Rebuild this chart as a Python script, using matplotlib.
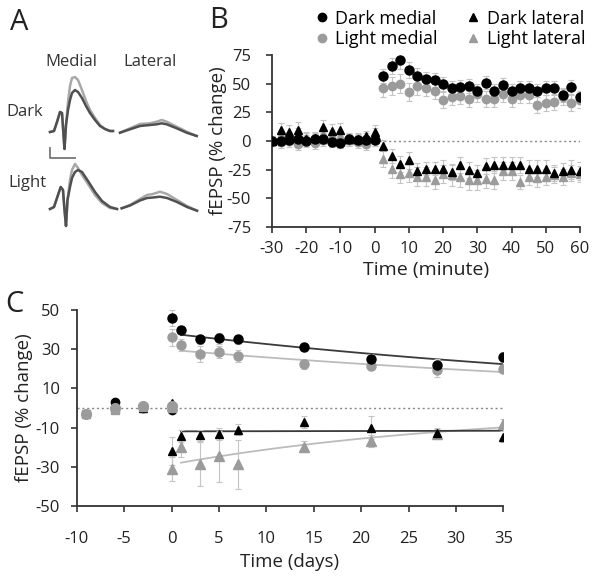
import numpy as np
import matplotlib
matplotlib.use("Agg")
import matplotlib.pyplot as plt
from matplotlib.lines import Line2D

plt.rcParams['font.family'] = ['Open Sans', 'DejaVu Sans']
plt.rcParams['axes.unicode_minus'] = False

# ---- panel A: example traces (figure pixel coords) ----
med_dark_x = [50, 54, 57, 60, 62, 63.5, 64.5, 66, 68, 70, 72, 75, 78, 82, 86, 90, 95, 100, 105, 110, 113]
med_dark_y_a = [132, 131, 122, 112, 113, 135, 149, 125, 110, 100, 93, 90, 92, 98, 106, 113, 120, 126, 129, 131, 131]
med_dark_y_b = [132, 131, 122, 112, 113, 135, 149, 125, 102, 86, 78, 77, 80, 90, 101, 110, 118, 125, 129, 131, 131]
lat_dark_x = [120, 130, 140, 150, 156.7, 161.7, 166.7, 176.7, 186.7, 196.7]
lat_dark_y_a = [132.7, 129.3, 126, 125, 124.3, 123.3, 124.3, 128.3, 132.7, 136]
lat_dark_y_b = [132.7, 128.3, 124, 123.3, 121.7, 120, 121.7, 126.7, 131.7, 136]
med_light_x = [50, 54, 58, 60.7, 63, 64.5, 66, 67.5, 70, 72, 75, 78, 82, 88, 95, 102, 110, 117]
med_light_y_a = [209, 207, 195, 187, 190, 210, 226, 200, 187, 178, 172, 170, 172, 181, 192, 201, 207, 209]
med_light_y_b = [209, 207, 195, 187, 190, 210, 226, 200, 180, 170, 164, 168, 175, 184, 195, 203, 208, 209]
lat_light_x = [121.7, 130, 140, 147, 153, 160, 167, 177, 187, 197]
lat_light_y_a = [208.3, 205.5, 200.5, 198, 197.5, 196.7, 198, 202, 207, 210.7]
lat_light_y_b = [208.3, 205, 199, 195, 194, 191.7, 194, 200, 206, 210.7]
scale_x = [50, 50, 75]
scale_y = [148, 158, 158]

# ---- panel B: minutes ----
t_min = [-30, -27.5, -25, -22.5, -20, -17.5, -15, -12.5, -10, -7.5, -5, -2.5, 0,
         2.5, 5, 7.5, 10, 12.5, 15, 17.5, 20, 22.5, 25, 27.5, 30,
         32.5, 35, 37.5, 40, 42.5, 45, 47.5, 50, 52.5, 55, 57.5, 60]
b_dark_med = [0, 0, 1, 2, 0, 2, 2, -1, -2, 2, 1, 1, 1,
              57, 65, 71, 62, 57, 54, 53, 50, 46, 47, 48, 44,
              51, 44, 49, 44, 46, 46, 44, 46, 46, 40, 47, 38]
b_dark_med_err = [3, 4, 4, 5, 4, 4, 5, 4, 4, 4, 4, 4, 5,
                  6, 7, 8, 7, 7, 6, 6, 6, 6, 6, 6, 6,
                  6, 6, 6, 6, 6, 6, 6, 6, 6, 6, 6, 6]
b_light_med = [0, -1, 0, -3, 0, -2, 1, 0, -1, 1, -1, -3, 1,
               46, 48, 50, 43, 48, 46, 44, 36, 38, 39, 37, 41,
               37, 37, 41, 37, 40, 40, 31, 33, 34, 38, 33, 36]
b_light_med_err = [4, 5, 5, 5, 5, 5, 5, 5, 5, 5, 5, 5, 5,
                   8, 8, 8, 8, 8, 7, 7, 7, 7, 7, 7, 7,
                   7, 7, 7, 7, 7, 7, 7, 7, 7, 7, 7, 7]
b_dark_lat = [0, 10, 8, 10, 2, 3, 12, 9, 10, 2, 2, 4, 8,
              -4, -13, -20, -17, -26, -24, -24, -24, -27, -21, -25, -28,
              -22, -21, -21, -21, -21, -24, -24, -24, -28, -26, -25, -26]
b_dark_lat_err = [4, 6, 6, 7, 5, 5, 6, 6, 6, 5, 5, 5, 6,
                  5, 6, 7, 7, 7, 6, 6, 7, 7, 7, 7, 7,
                  7, 7, 7, 7, 7, 7, 7, 7, 7, 7, 8, 8]
b_light_lat = [0, 5, 3, 5, 3, 2, 6, 5, 4, 1, 1, 2, 5,
               -16, -24, -29, -28, -31, -31, -34, -29, -30, -31, -34, -34,
               -33, -34, -26, -26, -36, -31, -32, -31, -30, -31, -28, -29]
b_light_lat_err = [4, 5, 5, 6, 5, 5, 6, 5, 5, 5, 5, 5, 6,
                   7, 8, 8, 8, 8, 8, 8, 8, 9, 9, 9, 9,
                   8, 8, 8, 8, 6, 7, 8, 7, 7, 7, 7, 7]

# ---- panel C: days ----
base_days = [-9, -6, -3, 0]
c_base_dark_med = [-3, 3, 0, -1]
c_base_light_med = [-3, 0, 1, 1]
c_base_dark_lat = [-3, 0, 0, 2.5]
c_base_light_lat = [-3, -1, 0.5, 0]
days = [0, 1, 3, 5, 7, 14, 21, 28, 35]
c_dark_med = [46, 40, 35, 35.5, 35, 31, 25, 22, 26]
c_dark_med_err = [4, 2, 2.5, 3, 2.5, 2, 2.5, 3, 2.5]
c_light_med = [36, 32, 27.5, 28.7, 26.5, 22.4, 21.4, 19.4, 20]
c_light_med_err = [4.5, 3, 4, 3, 3, 2.5, 2, 3.5, 2]
c_dark_lat = [-22, -14.3, -14, -13.3, -11, -7, -10, -12.5, -14.6]
c_dark_lat_err = [7, 3, 3, 3, 3, 3, 6, 2.5, 3]
c_light_lat = [-31, -20, -28.6, -24.5, -28.6, -19.7, -16.7, -13.4, -8.2]
c_light_lat_err = [6, 5, 11, 13, 12.5, 3, 3, 2.5, 2.5]

DARK = '#000000'
LIGHT = '#9b9b9b'
ERR = '#c4c4c4'
AX = '#333333'
TXT = '#222222'

fig = plt.figure(figsize=(6, 5.76), dpi=100)

# ---------- A ----------
axa = fig.add_axes([0, (576 - 270) / 576, 210 / 600, 270 / 576])
axa.set_xlim(0, 210)
axa.set_ylim(270, 0)
axa.axis('off')
for xs, ya, yb in [(med_dark_x, med_dark_y_a, med_dark_y_b), (lat_dark_x, lat_dark_y_a, lat_dark_y_b),
                   (med_light_x, med_light_y_a, med_light_y_b), (lat_light_x, lat_light_y_a, lat_light_y_b)]:
    axa.plot(xs, yb, color='#a8a8a8', lw=1.8)
    axa.plot(xs, ya, color='#505050', lw=1.8)
axa.plot(scale_x, scale_y, color='#777777', lw=1.3)
axa.text(19, 23, 'A', fontsize=21, ha='center', va='center', color=TXT)
axa.text(71, 62, 'Medial', fontsize=12, ha='center', va='center', color='#333333')
axa.text(150, 62, 'Lateral', fontsize=12, ha='center', va='center', color='#333333')
axa.text(25, 112, 'Dark', fontsize=12, ha='center', va='center', color='#333333')
axa.text(27, 183, 'Light', fontsize=12, ha='center', va='center', color='#333333')


def style_axes(ax, xpad, ypad):
    for s in ['top', 'right']:
        ax.spines[s].set_visible(False)
    for s in ['left', 'bottom']:
        ax.spines[s].set_color(AX)
        ax.spines[s].set_linewidth(1.3)
    ax.tick_params(colors=AX, width=1.2, length=4, labelsize=12, labelcolor=TXT)
    ax.tick_params(axis='x', pad=xpad)
    ax.tick_params(axis='y', pad=ypad)


# ---------- B ----------
axb = fig.add_axes([272 / 600, (576 - 227) / 576, 308 / 600, 172 / 576])
axb.axhline(0, color='#888888', lw=1, ls=(0, (1.5, 2)), zorder=0)
ekw = dict(fmt='none', ecolor=ERR, elinewidth=0.8, capsize=2.5, capthick=0.8, zorder=1)
axb.errorbar(t_min, b_light_lat, yerr=b_light_lat_err, **ekw)
axb.errorbar(t_min, b_light_med, yerr=b_light_med_err, **ekw)
axb.errorbar(t_min, b_dark_lat, yerr=b_dark_lat_err, **ekw)
axb.errorbar(t_min, b_dark_med, yerr=b_dark_med_err, **ekw)
axb.plot(t_min, b_light_lat, '^', color=LIGHT, ms=6, ls='none', zorder=2)
axb.plot(t_min, b_light_med, 'o', color=LIGHT, ms=6, ls='none', zorder=2)
axb.plot(t_min, b_dark_lat, '^', color=DARK, ms=6, ls='none', zorder=3)
axb.plot(t_min, b_dark_med, 'o', color=DARK, ms=6.5, ls='none', zorder=3)
axb.set_xlim(-30, 60)
axb.set_ylim(-75, 75)
axb.set_xticks([-30, -20, -10, 0, 10, 20, 30, 40, 50, 60])
axb.set_yticks([-75, -50, -25, 0, 25, 50, 75])
style_axes(axb, 6, 11)
axb.set_xlabel('Time (minute)', fontsize=14, color=TXT, labelpad=3)
axb.set_ylabel('fEPSP (% change)', fontsize=13.5, color=TXT, labelpad=0)
fig.text(219 / 600, 1 - 20 / 576, 'B', fontsize=21, ha='center', va='center', color=TXT)

handles = [Line2D([], [], marker='o', color=DARK, ls='none', ms=6),
           Line2D([], [], marker='o', color=LIGHT, ls='none', ms=6),
           Line2D([], [], marker='^', color=DARK, ls='none', ms=6),
           Line2D([], [], marker='^', color=LIGHT, ls='none', ms=6)]
labels = ['Dark medial', 'Light medial', 'Dark lateral', 'Light lateral']
fig.legend(handles, labels, ncol=2, loc='upper left', bbox_to_anchor=(303 / 600, 1 + 3 / 576),
           frameon=False, handlelength=0.7, handletextpad=0.4,
           columnspacing=1.6, labelspacing=0.15, borderpad=0.2, prop={'size': 13})

# ---------- C ----------
axc = fig.add_axes([76.7 / 600, (576 - 506) / 576, 426.6 / 600, 196 / 576])
axc.axhline(0, color='#888888', lw=1, ls=(0, (1.5, 2)), zorder=0)
post_x = np.array(days[1:], dtype=float)
xx = np.linspace(post_x.min(), post_x.max(), 100)
for vals, col in [(c_light_lat, '#bcbcbc'), (c_light_med, '#bcbcbc'),
                  (c_dark_lat, '#3a3a3a'), (c_dark_med, '#3a3a3a')]:
    v = np.array(vals[1:], dtype=float)
    sgn = np.sign(v.mean())
    b, a = np.polyfit(post_x, np.log(np.abs(v)), 1)
    axc.plot(xx, sgn * np.exp(a + b * xx), color=col, lw=1.3, zorder=1)
axc.errorbar(days, c_light_lat, yerr=c_light_lat_err, **ekw)
axc.errorbar(days, c_light_med, yerr=c_light_med_err, **ekw)
axc.errorbar(days, c_dark_lat, yerr=c_dark_lat_err, **ekw)
axc.errorbar(days, c_dark_med, yerr=c_dark_med_err, **ekw)
axc.plot(base_days[1:], c_base_dark_med[1:], 'o', color=DARK, ms=6, ls='none', zorder=2)
axc.plot(base_days[1:], c_base_dark_lat[1:], '^', color=DARK, ms=6, ls='none', zorder=2)
axc.plot(base_days, c_base_light_med, 'o', color=LIGHT, ms=7, ls='none', zorder=3)
axc.plot(base_days, c_base_light_lat, 's', color=LIGHT, ms=6, ls='none', zorder=3)
axc.plot(days, c_light_lat, '^', color=LIGHT, ms=7, ls='none', zorder=2)
axc.plot(days, c_light_med, 'o', color=LIGHT, ms=6.5, ls='none', zorder=2)
axc.plot(days, c_dark_lat, '^', color=DARK, ms=6, ls='none', zorder=3)
axc.plot(days, c_dark_med, 'o', color=DARK, ms=6.5, ls='none', zorder=3)
axc.set_xlim(-10, 35)
axc.set_ylim(-50, 50)
axc.set_xticks([-10, -5, 0, 5, 10, 15, 20, 25, 30, 35])
axc.set_yticks([-50, -30, -10, 10, 30, 50])
style_axes(axc, 14, 8)
axc.set_xlabel('Time (days)', fontsize=13.5, color=TXT, labelpad=4)
axc.set_ylabel('fEPSP (% change)', fontsize=13.5, color=TXT, labelpad=2)
fig.text(14 / 600, 1 - 305 / 576, 'C', fontsize=21, ha='center', va='center', color=TXT)

fig.savefig('out.png', dpi=100)
